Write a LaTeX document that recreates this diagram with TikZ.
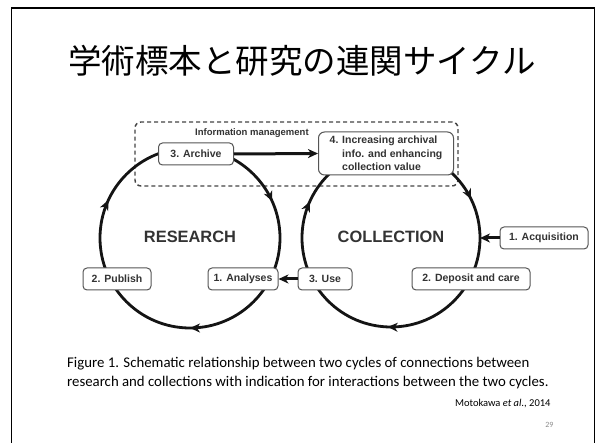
\documentclass[tikz,border=0pt]{standalone}
\usepackage{fontspec}
\setmainfont{Liberation Sans}
\newfontfamily\jpfont{Noto Sans CJK JP}
\newfontfamily\capfont{Carlito}
\usetikzlibrary{arrows.meta,decorations.markings}
\definecolor{textgray}{HTML}{333333}
\definecolor{boxgray}{HTML}{555555}
\definecolor{dashgray}{HTML}{444444}
\begin{document}
\begin{tikzpicture}[x=1pt,y=1pt,
  lbl/.style={draw=boxgray, line width=1pt, rounded corners=4pt, fill=white,
    font=\bfseries\fontsize{10.5}{13.5}\selectfont, text=textgray,
    inner xsep=0pt, inner ysep=0pt, minimum height=22pt, align=center},
  cyc/.style={line width=2.8pt, draw=black!92},
  tip/.style={-{Stealth[length=10pt,width=9pt,inset=3pt]}},
  bigarrow/.style={line width=3pt, draw=black!92, tip},
  ctitle/.style={font=\bfseries\fontsize{16.4}{18}\selectfont, text=black!80},
  captext/.style={font=\capfont\fontsize{14.8}{18}\selectfont, anchor=base west, inner sep=0pt},
]
\useasboundingbox (0,0) rectangle (598,-443);
\fill[white] (0,0) rectangle (598,-443);
% slide frame
\draw[line width=1.8pt] (11.5,-443) -- (11.5,-8) -- (594.5,-8) -- (594.5,-443);

% title
\node[font=\jpfont\fontsize{33.5}{40}\selectfont] (title) at (302,-61) {学術標本と研究の連関サイクル};

% dashed information management box
\node[draw=dashgray, dashed, dash pattern=on 4pt off 3pt, line width=1.4pt, rounded corners=6pt,
  minimum width=323pt, minimum height=64pt, inner sep=0pt] (im) at (296.5,-154) {};
\node[font=\bfseries\fontsize{9.5}{11}\selectfont, text=textgray, anchor=west, inner sep=0pt] (iml) at (195,-133) {Information management};

% circle centres
\coordinate (rc) at (190,-238);
\coordinate (cc) at (391,-238);

% research cycle
\draw[cyc, postaction={decorate}, decoration={markings,
   mark=at position 0.183 with {\arrow{Stealth[length=10pt,width=9pt,inset=3pt]}},
   mark=at position 0.5 with {\arrow{Stealth[length=10pt,width=9pt,inset=3pt]}},
   mark=at position 0.819 with {\arrow{Stealth[length=10pt,width=9pt,inset=3pt]}}}]
  (rc) ++(90:90) arc[start angle=90, end angle=-270, radius=90];

% collection cycle
\draw[cyc, postaction={decorate}, decoration={markings,
   mark=at position 0.178 with {\arrow{Stealth[length=10pt,width=9pt,inset=3pt]}},
   mark=at position 0.506 with {\arrow{Stealth[length=10pt,width=9pt,inset=3pt]}},
   mark=at position 0.817 with {\arrow{Stealth[length=10pt,width=9pt,inset=3pt]}}}]
  (cc) ++(90:89) arc[start angle=90, end angle=-270, radius=89];

\node[ctitle] (rt) at (190,-237) {RESEARCH};
\node[ctitle] (ct) at (391,-237) {COLLECTION};

% boxes
\node[lbl, minimum width=75pt] (archive) at (196,-154) {3. Archive};
\node[lbl, minimum width=135pt, minimum height=43pt, align=left, rounded corners=6pt] (incr) at (386,-153.5)
  {\makebox[12.5pt][l]{4.}Increasing archival\\ \hspace*{12.5pt}info. and enhancing\\ \hspace*{12.5pt}collection value};
\node[lbl, minimum width=68pt] (publish) at (117,-279) {2. Publish};
\node[lbl, minimum width=70pt] (analyses) at (243,-279) {1. Analyses};
\node[lbl, minimum width=54pt] (use) at (325,-279) {3. Use};
\node[lbl, minimum width=118pt] (deposit) at (471,-279) {2. Deposit and care};
\node[lbl, minimum width=88pt] (acq) at (544,-238) {1. Acquisition};
\coordinate (acqin) at (480,-238);

% connectors
\draw[bigarrow] (archive.east) -- (incr.west);
\draw[bigarrow] (use.west) -- (analyses.east);
\draw[bigarrow] (acq.west) -- (acqin);

% caption
\node[captext] (cap1) at (67,-368) {Figure 1. Schematic relationship between two cycles of connections between};
\node[captext] (cap2) at (67,-387) {research and collections with indication for interactions between the two cycles.};
\node[font=\capfont\fontsize{10.5}{12}\selectfont, anchor=base east] (ref) at (554,-407) {Motokawa \textit{et al.}, 2014};
\node[font=\capfont\fontsize{8}{10}\selectfont, text=black!45, anchor=base east] (pg) at (557,-428) {29};
\end{tikzpicture}
\end{document}
